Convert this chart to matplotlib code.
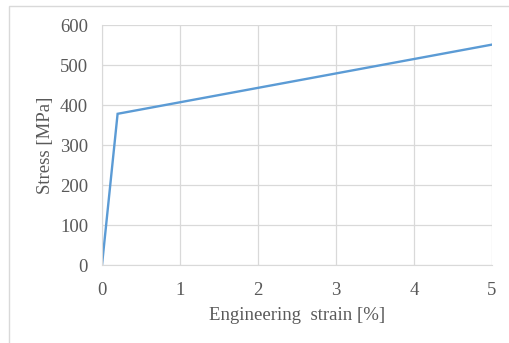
import matplotlib
matplotlib.use("Agg")
import matplotlib.pyplot as plt
from matplotlib.patches import Rectangle

# stress-strain data
strain = [0, 0.2, 5]
stress = [0, 378, 551]
xticks = [0, 1, 2, 3, 4, 5]
yticks = [0, 100, 200, 300, 400, 500, 600]

plt.rcParams['font.family'] = ['Liberation Serif', 'DejaVu Serif']
grey = '#595959'
gridc = '#d9d9d9'
fs = 13.5

fig = plt.figure(figsize=(5.1, 3.43), dpi=100)
# outer chart frame (Excel style), runs off the right/bottom edge
fig.patches.append(Rectangle((9.5 / 510, -0.1), 1.2, 1 - 5.5 / 343 + 0.1,
                             transform=fig.transFigure, fill=False,
                             edgecolor=gridc, linewidth=1.0))

ax = fig.add_axes([102 / 510, 1 - 265 / 343, 390 / 510, 240 / 343])
ax.plot(strain, stress, color='#5B9BD5', linewidth=1.7, solid_joinstyle='miter')

ax.set_xlim(0, 5)
ax.set_ylim(0, 600)
ax.set_xticks(xticks)
ax.set_yticks(yticks)
ax.grid(True, color=gridc, linewidth=0.9)
ax.set_axisbelow(True)
for s in ax.spines.values():
    s.set_visible(False)
ax.spines['left'].set_visible(True)
ax.spines['bottom'].set_visible(True)
ax.spines['left'].set_color(gridc)
ax.spines['bottom'].set_color(gridc)
ax.tick_params(length=0, labelsize=fs, colors=grey)
ax.tick_params(axis='x', pad=12)
ax.tick_params(axis='y', pad=10)

ax.set_xlabel('Engineering  strain [%]', fontsize=fs, color=grey, labelpad=6)
ax.set_ylabel('Stress [MPa]', fontsize=fs, color=grey, labelpad=4)

fig.savefig('out.png', dpi=100)
